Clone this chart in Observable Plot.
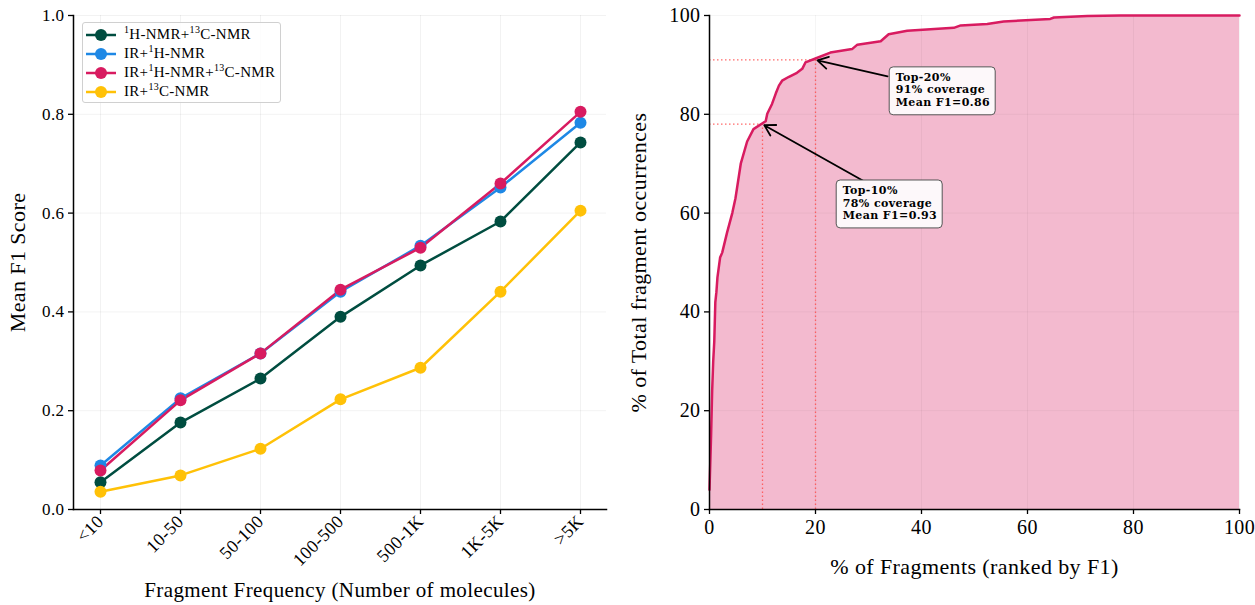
<!DOCTYPE html>
<html><head><meta charset="utf-8">
<script src="https://cdn.jsdelivr.net/npm/d3@7"></script>
<script src="https://cdn.jsdelivr.net/npm/@observablehq/plot@0.6"></script>
<style>
body{margin:0;background:#fff;font-family:"Liberation Serif",serif;}
#wrap{position:relative;width:1255px;height:605px;overflow:hidden;}
#left{position:absolute;left:0;top:0;}
#right{position:absolute;left:620px;top:0;}
#legend{position:absolute;left:82px;top:22px;width:199px;height:81px;border:1px solid #d0d0d0;border-radius:3px;background:rgba(255,255,255,0.85);font-size:15px;letter-spacing:0.3px;box-sizing:border-box;padding-top:2px;}
.row{display:flex;align-items:center;height:19px;}
.row svg{margin-left:3px;margin-right:8px;}
sup{font-size:10px;vertical-align:6px;line-height:0;}
</style></head>
<body><div id="wrap"><div id="left"></div><div id="right"></div><div id="legend"></div></div>
<script>
// ---------- data ----------
const categories = ["<10","10-50","50-100","100-500","500-1K","1K-5K",">5K"];
const seriesNames = ["1H-NMR+13C-NMR","IR+1H-NMR","IR+1H-NMR+13C-NMR","IR+13C-NMR"];
const seriesLabelsHtml = ["<sup>1</sup>H-NMR+<sup>13</sup>C-NMR","IR+<sup>1</sup>H-NMR","IR+<sup>1</sup>H-NMR+<sup>13</sup>C-NMR","IR+<sup>13</sup>C-NMR"];
const seriesColors = ["#004d40","#1e88e5","#d81b60","#ffc107"];
const hcValues   = [0.055,0.176,0.265,0.390,0.494,0.583,0.743];
const irHValues  = [0.089,0.225,0.316,0.441,0.534,0.652,0.783];
const irHCValues = [0.079,0.221,0.316,0.445,0.530,0.660,0.805];
const irCValues  = [0.036,0.069,0.123,0.223,0.287,0.441,0.605];
const leftYTicks = [0,0.2,0.4,0.6,0.8,1.0];

const coverageX = [0,0.3,0.5,0.7,0.9,1.1,1.3,1.5,2.0,2.4,3.3,4.3,4.9,5.9,7.1,8.3,10.0,10.6,10.9,11.8,12.5,13.1,13.7,15.0,16.5,17.5,18.1,20.0,22.8,26.9,27.9,32.3,33.8,37.3,46.1,47.4,52.4,55.5,64.3,65.0,71.3,77.5,100];
const coverageY = [4,15,24,30,34,42,44,47,51,52,56,60,63,70,74.5,77,78.2,78.6,80.1,82.1,84.2,85.8,86.8,87.6,88.4,89.2,90.5,91.3,92.5,93.2,94.1,94.8,96.2,96.9,97.5,98.0,98.3,98.8,99.3,99.6,99.9,100,100];
const rightTicks = [0,20,40,60,80,100];

const annTopPct   = [10,20];
const annCoverage = [78,91];
const annMeanF1   = [0.93,0.86];
// annotation box placement (data units) and arrow tails
const annBoxX1 = [24,34], annBoxX2 = [44,54];
const annBoxY1 = [66.6,89.5], annBoxY2 = [56.9,79.8];
const annTailX = [28.9,33.6], annTailY = [66.6,87.7];

// ---------- left chart ----------
const allSeries = [hcValues, irHValues, irHCValues, irCValues];
const rows = [];
allSeries.forEach((vals, s) => vals.forEach((v, i) => rows.push({cat: categories[i], v, s: seriesNames[s]})));
const font = "'Liberation Serif', serif";
const titleStyle = {fontSize: 22, textAnchor: "middle", lineAnchor: "middle"};

const left = Plot.plot({
  width: 620, height: 605, marginTop: 15, marginBottom: 96, marginLeft: 73, marginRight: 14,
  style: {fontFamily: font, fontSize: "16px", color: "#000", background: "transparent", letterSpacing: "0.4px"},
  x: {type: "point", domain: categories, padding: 0.3, label: null},
  y: {domain: [0, 1], label: null},
  marks: [
    Plot.gridX({stroke: "#000", strokeOpacity: 0.05}),
    Plot.gridY({ticks: leftYTicks, stroke: "#000", strokeOpacity: 0.05}),
    Plot.frame({anchor: "left", stroke: "#000", strokeWidth: 1.5}),
    Plot.frame({anchor: "bottom", stroke: "#000", strokeWidth: 1.5}),
    Plot.axisX({tickRotate: -45, tickSize: 5, tickPadding: 4, fontSize: 18, label: null, strokeWidth: 1.3}),
    Plot.axisY({ticks: leftYTicks, tickFormat: d3.format(".1f"), tickSize: 5, tickPadding: 4, fontSize: 17, label: null, strokeWidth: 1.3}),
    ...seriesNames.map((name, s) => Plot.line(rows.filter(r => r.s === name), {x: "cat", y: "v", stroke: seriesColors[s], strokeWidth: 2.5})),
    ...seriesNames.map((name, s) => Plot.dot(rows.filter(r => r.s === name), {x: "cat", y: "v", fill: seriesColors[s], r: 6})),
    Plot.text([0], {frameAnchor: "left", dx: -56, rotate: -90, text: () => "Mean F1 Score", ...titleStyle}),
    Plot.text([0], {frameAnchor: "bottom", dy: 81, text: () => "Fragment Frequency (Number of molecules)", ...titleStyle, fontSize: 21})
  ]
});
document.getElementById("left").appendChild(left);

// legend
const lg = document.getElementById("legend");
seriesLabelsHtml.forEach((h, s) => {
  const row = document.createElement("div");
  row.className = "row";
  row.innerHTML = `<svg width="30" height="14"><line x1="0" y1="7" x2="30" y2="7" stroke="${seriesColors[s]}" stroke-width="2.5"/><circle cx="15" cy="7" r="6" fill="${seriesColors[s]}"/></svg><span>${h}</span>`;
  lg.appendChild(row);
});

// ---------- right chart ----------
const cov = coverageX.map((x, i) => ({x, y: coverageY[i]}));
const anns = annTopPct.map((p, i) => ({
  x: p, y: annCoverage[i],
  label: `Top-${p}%\n${annCoverage[i]}% coverage\nMean F1=${annMeanF1[i].toFixed(2)}`,
  bx1: annBoxX1[i], bx2: annBoxX2[i], by1: annBoxY1[i], by2: annBoxY2[i],
  tx: annTailX[i], ty: annTailY[i]
}));

const right = Plot.plot({
  width: 635, height: 605, marginTop: 15, marginBottom: 96, marginLeft: 89, marginRight: 16,
  style: {fontFamily: font, fontSize: "20px", color: "#000", background: "transparent", letterSpacing: "0.4px"},
  x: {domain: [0, 100], label: null},
  y: {domain: [0, 100], label: null},
  marks: [
    Plot.areaY(cov, {x: "x", y: "y", fill: "#d81b60", fillOpacity: 0.3}),
    Plot.gridX({ticks: rightTicks, stroke: "#000", strokeOpacity: 0.04}),
    Plot.gridY({ticks: rightTicks, stroke: "#000", strokeOpacity: 0.04}),
    Plot.ruleY(anns, {y: "y", x1: 0, x2: "x", stroke: "#ff4f4f", strokeWidth: 1.3, strokeDasharray: "1.5,2.5", strokeOpacity: 0.85}),
    Plot.ruleX(anns, {x: "x", y1: 0, y2: "y", stroke: "#ff4f4f", strokeWidth: 1.3, strokeDasharray: "1.5,2.5", strokeOpacity: 0.85}),
    Plot.line(cov, {x: "x", y: "y", stroke: "#d81b60", strokeWidth: 2.5}),
    Plot.frame({anchor: "left", stroke: "#000", strokeWidth: 1.5}),
    Plot.frame({anchor: "bottom", stroke: "#000", strokeWidth: 1.5}),
    Plot.axisX({ticks: rightTicks, tickSize: 5, tickPadding: 5, fontSize: 20, label: null, strokeWidth: 1.3}),
    Plot.axisY({ticks: rightTicks, tickSize: 5, tickPadding: 4, fontSize: 20, label: null, strokeWidth: 1.3}),
    Plot.arrow(anns, {x1: "tx", y1: "ty", x2: "x", y2: "y", stroke: "#000", strokeWidth: 1.8, headLength: 10, insetEnd: 2}),
    Plot.rect(anns, {x1: "bx1", x2: "bx2", y1: "by1", y2: "by2", fill: "#fdf8fa", stroke: "#555", strokeWidth: 1, rx: 4}),
    Plot.text(anns, {x: "bx1", y: "by1", text: "label", dx: 6, dy: 5, textAnchor: "start", lineAnchor: "top", fontWeight: "bold", fontSize: 11, lineHeight: 1.12, fontFamily: "'DejaVu Serif', serif", letterSpacing: "0px"}),
    Plot.text([0], {frameAnchor: "left", dx: -71, rotate: -90, text: () => "% of Total fragment occurrences", ...titleStyle}),
    Plot.text([0], {frameAnchor: "bottom", dy: 57, text: () => "% of Fragments (ranked by F1)", ...titleStyle})
  ]
});
document.getElementById("right").appendChild(right);
</script></body></html>
